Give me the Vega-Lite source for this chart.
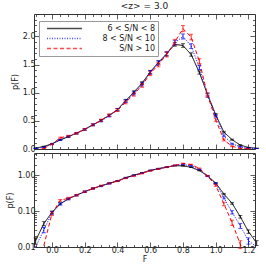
{
  "$schema": "https://vega.github.io/schema/vega-lite/v6.json",
  "padding": {"left": 6, "top": 1, "right": 12, "bottom": 4},
  "title": {"text": "<z> = 3.0", "fontSize": 9, "fontWeight": "normal", "font": "DejaVu Sans", "color": "#222", "offset": 3, "anchor": "middle", "frame": "group"},
  "spacing": -7,
  "config": {
    "view": {"stroke": null},
    "axis": {"labelFont": "DejaVu Sans", "titleFont": "DejaVu Sans", "labelFontSize": 8, "titleFontSize": 8, "titleFontWeight": "normal", "labelColor": "#222", "titleColor": "#222", "domainColor": "#333", "tickColor": "#333", "grid": false, "domainWidth": 1, "tickWidth": 0.8, "labelPadding": 4}
  },
  "datasets": {
    "d": [
      {"F": -0.10, "s": "6 < S/N < 8", "p": 0.015, "e": 0.003},
      {"F": -0.05, "s": "6 < S/N < 8", "p": 0.045, "e": 0.006},
      {"F": 0.00, "s": "6 < S/N < 8", "p": 0.093, "e": 0.008},
      {"F": 0.05, "s": "6 < S/N < 8", "p": 0.16, "e": 0.01},
      {"F": 0.10, "s": "6 < S/N < 8", "p": 0.22, "e": 0.012},
      {"F": 0.15, "s": "6 < S/N < 8", "p": 0.28, "e": 0.012},
      {"F": 0.20, "s": "6 < S/N < 8", "p": 0.35, "e": 0.014},
      {"F": 0.25, "s": "6 < S/N < 8", "p": 0.43, "e": 0.015},
      {"F": 0.30, "s": "6 < S/N < 8", "p": 0.51, "e": 0.016},
      {"F": 0.35, "s": "6 < S/N < 8", "p": 0.60, "e": 0.018},
      {"F": 0.40, "s": "6 < S/N < 8", "p": 0.70, "e": 0.02},
      {"F": 0.45, "s": "6 < S/N < 8", "p": 0.86, "e": 0.022},
      {"F": 0.50, "s": "6 < S/N < 8", "p": 1.01, "e": 0.024},
      {"F": 0.55, "s": "6 < S/N < 8", "p": 1.17, "e": 0.025},
      {"F": 0.60, "s": "6 < S/N < 8", "p": 1.37, "e": 0.028},
      {"F": 0.65, "s": "6 < S/N < 8", "p": 1.54, "e": 0.03},
      {"F": 0.70, "s": "6 < S/N < 8", "p": 1.69, "e": 0.03},
      {"F": 0.75, "s": "6 < S/N < 8", "p": 1.86, "e": 0.032},
      {"F": 0.80, "s": "6 < S/N < 8", "p": 1.84, "e": 0.032},
      {"F": 0.85, "s": "6 < S/N < 8", "p": 1.68, "e": 0.03},
      {"F": 0.90, "s": "6 < S/N < 8", "p": 1.36, "e": 0.028},
      {"F": 0.95, "s": "6 < S/N < 8", "p": 0.97, "e": 0.024},
      {"F": 1.00, "s": "6 < S/N < 8", "p": 0.61, "e": 0.02},
      {"F": 1.05, "s": "6 < S/N < 8", "p": 0.30, "e": 0.014},
      {"F": 1.10, "s": "6 < S/N < 8", "p": 0.166, "e": 0.01},
      {"F": 1.15, "s": "6 < S/N < 8", "p": 0.07, "e": 0.006},
      {"F": 1.20, "s": "6 < S/N < 8", "p": 0.027, "e": 0.003},
      {"F": 1.25, "s": "6 < S/N < 8", "p": 0.013, "e": 0.002},
      {"F": -0.10, "s": "8 < S/N < 10", "p": 0.01, "e": 0.002},
      {"F": -0.05, "s": "8 < S/N < 10", "p": 0.03, "e": 0.005},
      {"F": 0.00, "s": "8 < S/N < 10", "p": 0.09, "e": 0.008},
      {"F": 0.05, "s": "8 < S/N < 10", "p": 0.16, "e": 0.01},
      {"F": 0.10, "s": "8 < S/N < 10", "p": 0.22, "e": 0.012},
      {"F": 0.15, "s": "8 < S/N < 10", "p": 0.28, "e": 0.013},
      {"F": 0.20, "s": "8 < S/N < 10", "p": 0.35, "e": 0.015},
      {"F": 0.25, "s": "8 < S/N < 10", "p": 0.43, "e": 0.016},
      {"F": 0.30, "s": "8 < S/N < 10", "p": 0.50, "e": 0.018},
      {"F": 0.35, "s": "8 < S/N < 10", "p": 0.59, "e": 0.02},
      {"F": 0.40, "s": "8 < S/N < 10", "p": 0.70, "e": 0.022},
      {"F": 0.45, "s": "8 < S/N < 10", "p": 0.85, "e": 0.025},
      {"F": 0.50, "s": "8 < S/N < 10", "p": 0.99, "e": 0.028},
      {"F": 0.55, "s": "8 < S/N < 10", "p": 1.15, "e": 0.03},
      {"F": 0.60, "s": "8 < S/N < 10", "p": 1.36, "e": 0.033},
      {"F": 0.65, "s": "8 < S/N < 10", "p": 1.53, "e": 0.036},
      {"F": 0.70, "s": "8 < S/N < 10", "p": 1.69, "e": 0.04},
      {"F": 0.75, "s": "8 < S/N < 10", "p": 1.89, "e": 0.042},
      {"F": 0.80, "s": "8 < S/N < 10", "p": 2.00, "e": 0.045},
      {"F": 0.85, "s": "8 < S/N < 10", "p": 1.83, "e": 0.042},
      {"F": 0.90, "s": "8 < S/N < 10", "p": 1.45, "e": 0.038},
      {"F": 0.95, "s": "8 < S/N < 10", "p": 0.95, "e": 0.03},
      {"F": 1.00, "s": "8 < S/N < 10", "p": 0.59, "e": 0.024},
      {"F": 1.05, "s": "8 < S/N < 10", "p": 0.235, "e": 0.016},
      {"F": 1.10, "s": "8 < S/N < 10", "p": 0.093, "e": 0.01},
      {"F": 1.15, "s": "8 < S/N < 10", "p": 0.039, "e": 0.006},
      {"F": 1.20, "s": "8 < S/N < 10", "p": 0.015, "e": 0.003},
      {"F": 1.25, "s": "8 < S/N < 10", "p": 0.01, "e": 0.002},
      {"F": -0.05, "s": "S/N > 10", "p": 0.011, "e": 0.002},
      {"F": 0.00, "s": "S/N > 10", "p": 0.085, "e": 0.01},
      {"F": 0.05, "s": "S/N > 10", "p": 0.20, "e": 0.012},
      {"F": 0.10, "s": "S/N > 10", "p": 0.23, "e": 0.014},
      {"F": 0.15, "s": "S/N > 10", "p": 0.28, "e": 0.015},
      {"F": 0.20, "s": "S/N > 10", "p": 0.35, "e": 0.016},
      {"F": 0.25, "s": "S/N > 10", "p": 0.43, "e": 0.018},
      {"F": 0.30, "s": "S/N > 10", "p": 0.51, "e": 0.02},
      {"F": 0.35, "s": "S/N > 10", "p": 0.60, "e": 0.022},
      {"F": 0.40, "s": "S/N > 10", "p": 0.69, "e": 0.024},
      {"F": 0.45, "s": "S/N > 10", "p": 0.83, "e": 0.027},
      {"F": 0.50, "s": "S/N > 10", "p": 0.97, "e": 0.03},
      {"F": 0.55, "s": "S/N > 10", "p": 1.13, "e": 0.033},
      {"F": 0.60, "s": "S/N > 10", "p": 1.34, "e": 0.036},
      {"F": 0.65, "s": "S/N > 10", "p": 1.50, "e": 0.04},
      {"F": 0.70, "s": "S/N > 10", "p": 1.68, "e": 0.045},
      {"F": 0.75, "s": "S/N > 10", "p": 1.90, "e": 0.05},
      {"F": 0.80, "s": "S/N > 10", "p": 2.14, "e": 0.055},
      {"F": 0.85, "s": "S/N > 10", "p": 1.99, "e": 0.05},
      {"F": 0.90, "s": "S/N > 10", "p": 1.56, "e": 0.045},
      {"F": 0.95, "s": "S/N > 10", "p": 0.96, "e": 0.035},
      {"F": 1.00, "s": "S/N > 10", "p": 0.52, "e": 0.027},
      {"F": 1.05, "s": "S/N > 10", "p": 0.16, "e": 0.018},
      {"F": 1.10, "s": "S/N > 10", "p": 0.048, "e": 0.008},
      {"F": 1.15, "s": "S/N > 10", "p": 0.012, "e": 0.003},
      {"F": 1.20, "s": "S/N > 10", "p": 0.004, "e": 0.001}
    ]
  },
  "vconcat": [
    {
      "width": 221,
      "height": 135,
      "data": {"name": "d"},
      "resolve": {"axis": {"x": "independent", "y": "independent"}},
      "layer": [
        {
          "mark": {"type": "line", "strokeWidth": 1, "clip": true},
          "encoding": {
            "x": {"field": "F", "type": "quantitative", "scale": {"domain": [-0.11, 1.24], "nice": false, "zero": false},
              "axis": {"orient": "bottom", "labels": false, "title": null, "values": [-0.1,-0.05,0,0.05,0.1,0.15,0.2,0.25,0.3,0.35,0.4,0.45,0.5,0.55,0.6,0.65,0.7,0.75,0.8,0.85,0.9,0.95,1.0,1.05,1.1,1.15,1.2],
                "tickSize": {"condition": {"test": "abs(datum.value*5-round(datum.value*5))<1e-6", "value": -5}, "value": -2.5}}},
            "y": {"field": "p", "type": "quantitative", "scale": {"domain": [0, 2.4], "nice": false, "zero": false},
              "axis": {"orient": "left", "title": "p(F)", "titlePadding": 3, "values": [0,0.1,0.2,0.3,0.4,0.5,0.6,0.7,0.8,0.9,1.0,1.1,1.2,1.3,1.4,1.5,1.6,1.7,1.8,1.9,2.0,2.1,2.2,2.3],
                "labelExpr": "abs(datum.value*2-round(datum.value*2))<1e-6 ? format(datum.value,'.1f') : ''",
                "tickSize": {"condition": {"test": "abs(datum.value*2-round(datum.value*2))<1e-6", "value": -5}, "value": -2.5}}},
            "color": {"field": "s", "type": "nominal", "scale": {"domain": ["6 < S/N < 8", "8 < S/N < 10", "S/N > 10"], "range": ["#000000", "#0000ff", "#ff0000"]},
              "legend": {"title": null, "labelFont": "DejaVu Sans", "labelFontSize": 8, "labelColor": "#222", "strokeColor": "#999", "padding": 3, "symbolType": "M-5,0H5", "symbolSize": 49, "symbolStrokeWidth": 1.3, "symbolOffset": 18, "labelAlign": "right", "labelOffset": 86, "rowPadding": 1, "orient": "none", "legendX": 5, "legendY": 7}},
            "strokeDash": {"field": "s", "type": "nominal", "scale": {"domain": ["6 < S/N < 8", "8 < S/N < 10", "S/N > 10"], "range": [[1, 0], [1, 1.5], [4, 2.5]]},
              "legend": {"title": null, "labelFont": "DejaVu Sans", "labelFontSize": 8, "labelColor": "#222", "strokeColor": "#999", "padding": 3, "symbolType": "M-5,0H5", "symbolSize": 49, "symbolStrokeWidth": 1.3, "symbolOffset": 18, "labelAlign": "right", "labelOffset": 86, "rowPadding": 1, "orient": "none", "legendX": 5, "legendY": 7}}
          }
        },
        {
          "mark": {"type": "errorbar", "ticks": {"size": 4}, "thickness": 0.9},
          "encoding": {
            "x": {"field": "F", "type": "quantitative", "axis": null},
            "y": {"field": "p", "type": "quantitative", "axis": null},
            "yError": {"field": "e"},
            "color": {"field": "s", "type": "nominal"}
          }
        },
        {
          "mark": {"type": "point", "opacity": 0},
          "encoding": {
            "x": {"field": "F", "type": "quantitative",
              "axis": {"orient": "top", "labels": false, "title": null, "values": [-0.1,-0.05,0,0.05,0.1,0.15,0.2,0.25,0.3,0.35,0.4,0.45,0.5,0.55,0.6,0.65,0.7,0.75,0.8,0.85,0.9,0.95,1.0,1.05,1.1,1.15,1.2],
                "tickSize": {"condition": {"test": "abs(datum.value*5-round(datum.value*5))<1e-6", "value": -5}, "value": -2.5}}},
            "y": {"field": "p", "type": "quantitative",
              "axis": {"orient": "right", "labels": false, "title": null, "values": [0,0.1,0.2,0.3,0.4,0.5,0.6,0.7,0.8,0.9,1.0,1.1,1.2,1.3,1.4,1.5,1.6,1.7,1.8,1.9,2.0,2.1,2.2,2.3],
                "tickSize": {"condition": {"test": "abs(datum.value*2-round(datum.value*2))<1e-6", "value": -5}, "value": -2.5}}}
          }
        }
      ]
    },
    {
      "width": 221,
      "height": 94,
      "data": {"name": "d"},
      "resolve": {"axis": {"x": "independent", "y": "independent"}},
      "layer": [
        {
          "mark": {"type": "line", "strokeWidth": 1, "clip": true},
          "encoding": {
            "x": {"field": "F", "type": "quantitative", "scale": {"domain": [-0.11, 1.24], "nice": false, "zero": false},
              "axis": {"orient": "bottom", "title": "F", "titlePadding": 1, "values": [-0.1,-0.05,0,0.05,0.1,0.15,0.2,0.25,0.3,0.35,0.4,0.45,0.5,0.55,0.6,0.65,0.7,0.75,0.8,0.85,0.9,0.95,1.0,1.05,1.1,1.15,1.2],
                "labelExpr": "abs(datum.value*5-round(datum.value*5))<1e-6 ? format(datum.value,'.1f') : ''",
                "tickSize": {"condition": {"test": "abs(datum.value*5-round(datum.value*5))<1e-6", "value": -5}, "value": -2.5}}},
            "y": {"field": "p", "type": "quantitative", "scale": {"type": "log", "domain": [0.01, 4.2], "nice": false},
              "axis": {"orient": "left", "title": "p(F)", "titlePadding": 3, "values": [0.01,0.02,0.03,0.04,0.05,0.06,0.07,0.08,0.09,0.1,0.2,0.3,0.4,0.5,0.6,0.7,0.8,0.9,1,2,3,4],
                "labelExpr": "(datum.value==0.01||datum.value==0.1||datum.value==1) ? format(datum.value,'.2f') : ''",
                "tickSize": {"condition": {"test": "datum.value==0.01||datum.value==0.1||datum.value==1", "value": -5}, "value": -2.5}}},
            "color": {"field": "s", "type": "nominal"},
            "strokeDash": {"field": "s", "type": "nominal"}
          }
        },
        {
          "transform": [{"filter": "datum.p - datum.e > 0.009"}],
          "mark": {"type": "errorbar", "ticks": {"size": 4}, "thickness": 0.9},
          "encoding": {
            "x": {"field": "F", "type": "quantitative", "axis": null},
            "y": {"field": "p", "type": "quantitative", "axis": null},
            "yError": {"field": "e"},
            "color": {"field": "s", "type": "nominal"}
          }
        },
        {
          "mark": {"type": "point", "opacity": 0},
          "encoding": {
            "x": {"field": "F", "type": "quantitative",
              "axis": {"orient": "top", "labels": false, "title": null, "values": [-0.1,-0.05,0,0.05,0.1,0.15,0.2,0.25,0.3,0.35,0.4,0.45,0.5,0.55,0.6,0.65,0.7,0.75,0.8,0.85,0.9,0.95,1.0,1.05,1.1,1.15,1.2],
                "tickSize": {"condition": {"test": "abs(datum.value*5-round(datum.value*5))<1e-6", "value": -5}, "value": -2.5}}},
            "y": {"field": "p", "type": "quantitative",
              "axis": {"orient": "right", "labels": false, "title": null, "values": [0.01,0.02,0.03,0.04,0.05,0.06,0.07,0.08,0.09,0.1,0.2,0.3,0.4,0.5,0.6,0.7,0.8,0.9,1,2,3,4],
                "tickSize": {"condition": {"test": "datum.value==0.01||datum.value==0.1||datum.value==1", "value": -5}, "value": -2.5}}}
          }
        }
      ]
    }
  ]
}
